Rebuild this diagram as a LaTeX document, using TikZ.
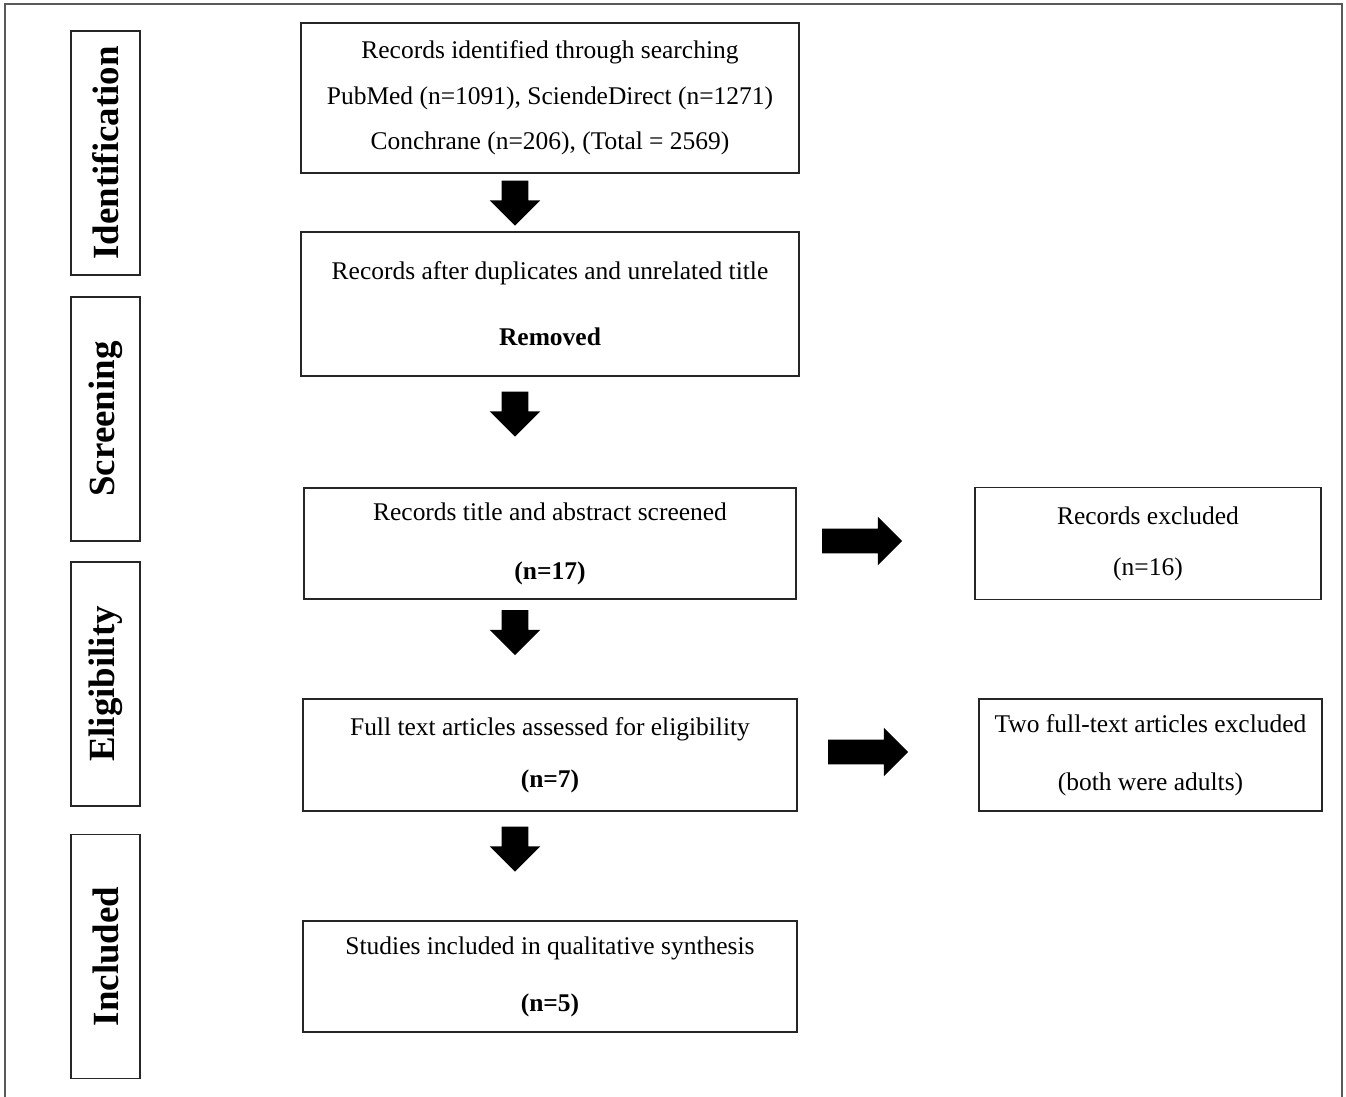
\documentclass[tikz,border=0pt]{standalone}
\usepackage{fontspec}
\setmainfont{Liberation Serif}
\usetikzlibrary{positioning, shapes.arrows}

\begin{document}
\begin{tikzpicture}[font=\fontsize{14.5}{26}\selectfont,
    box/.style={draw=black!85, line width=0.8pt, align=center, inner sep=0pt, outer sep=0pt},
    phase/.style={draw=black!85, line width=0.8pt, rotate=90, inner sep=0pt, outer sep=0pt,
        minimum width=4.88cm, minimum height=1.38cm,
        font=\fontsize{21}{24}\selectfont\bfseries},
    blockarrow/.style={single arrow, fill=black, draw=none, inner xsep=0pt,
        inner ysep=0.26cm, single arrow head extend=0.24cm, minimum height=0.9cm}]
    \useasboundingbox (0,0) rectangle (26.92,-21.94);
    \draw[black!65, line width=1.1pt] (0.1,-21.94) -- (0.1,-0.08) -- (26.84,-0.08) -- (26.84,-21.94);

        \node[phase] (pid) at (2.11,-3.06) {Identification};
        \node[phase] (pscr) at (2.11,-8.38) {Screening};
        \node[phase] (pelig) at (2.11,-13.68) {Eligibility};
        \node[phase] (pinc) at (2.11,-19.13) {Included};

        \node[box, minimum width=9.96cm, minimum height=3cm] (rec) at (11,-1.96)
            {Records identified through searching\\
             PubMed (n=1091), SciendeDirect (n=1271)\\
             Conchrane (n=206), (Total = 2569)};
        \node[box, minimum width=9.96cm, minimum height=2.88cm] [below = 1.18cm of rec] (dup)
            {Records after duplicates and unrelated title\\[11.5pt] \textbf{Removed}};
        \node[box, minimum width=9.84cm, minimum height=2.22cm] [below = 2.24cm of dup] (scr)
            {Records title and abstract screened\\[7.5pt] \textbf{(n=17)}};
        \node[box, minimum width=6.92cm, minimum height=2.24cm] [right = 3.58cm of scr] (exc)
            {Records excluded\\[3pt] (n=16)};
        \node[box, minimum width=9.88cm, minimum height=2.24cm] [below = 2cm of scr] (full)
            {Full text articles assessed for eligibility\\[3.5pt] \textbf{(n=7)}};
        \node[box, minimum width=6.86cm, minimum height=2.24cm] [right = 3.64cm of full] (fullx)
            {Two full-text articles excluded\\[7pt] (both were adults)};
        \node[box, minimum width=9.88cm, minimum height=2.22cm] [below = 2.2cm of full] (incl)
            {Studies included in qualitative synthesis\\[6.4pt] \textbf{(n=5)}};

        \node[blockarrow, rotate=-90] (a1) at (10.3,-3.93) {};
        \node[blockarrow, rotate=-90] (a2) at (10.3,-8.15) {};
        \node[blockarrow, rotate=-90] (a3) at (10.3,-12.52) {};
        \node[blockarrow, rotate=-90] (a4) at (10.3,-16.85) {};
        \node[blockarrow, minimum height=1.6cm, inner ysep=0.24cm] (r1) at (17.12,-10.82) {};
        \node[blockarrow, minimum height=1.6cm, inner ysep=0.24cm] (r2) at (17.24,-15.04) {};
\end{tikzpicture}
\end{document}
